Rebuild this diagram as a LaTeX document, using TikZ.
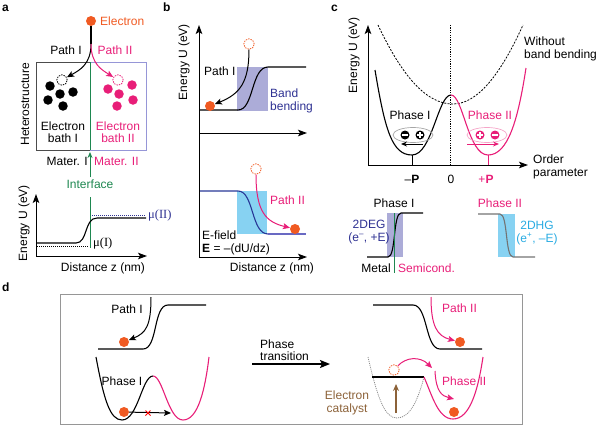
\documentclass[tikz,border=0pt]{standalone}
\usepackage{fontspec}
\setmainfont{Liberation Sans}
\newfontfamily\muserif{Liberation Serif}
\usetikzlibrary{arrows.meta,calc}

\definecolor{eorange}{RGB}{240,90,34}
\definecolor{epink}{RGB}{232,30,120}
\definecolor{lightpink}{RGB}{245,165,200}
\definecolor{egreen}{RGB}{30,135,80}
\definecolor{navy}{RGB}{46,49,146}
\definecolor{bandpurple}{RGB}{172,172,216}
\definecolor{bandcyan}{RGB}{135,210,242}
\definecolor{holeblue}{RGB}{41,171,226}
\definecolor{ebrown}{RGB}{140,98,57}
\definecolor{framegray}{RGB}{150,150,150}
\definecolor{bathblue}{RGB}{150,150,215}
\definecolor{lineblue}{RGB}{40,55,150}
\definecolor{flatblue}{RGB}{105,105,195}

\begin{document}
\begin{tikzpicture}[x=1pt,y=-1pt,
  every node/.style={inner sep=0pt,font=\fontsize{12}{12.5}\selectfont},
  panel/.style={font=\fontsize{12}{12}\selectfont\bfseries,anchor=base west},
  band/.style={line width=1.1pt},
  flow/.style={line width=1pt,-{Stealth[length=7pt,width=6pt,inset=1.5pt]}},
  axisline/.style={line width=0.9pt},
  axtip/.style={-{Stealth[length=9pt,width=6.5pt,inset=2pt]}},
  electron/.style={circle,fill=eorange,minimum size=10pt},
  vacancy/.style={circle,draw=#1,dash pattern=on 1.4pt off 1.1pt,line width=0.8pt,minimum size=10.5pt},
  vacancy/.default=eorange,
  bathdot/.style={circle,fill=#1,minimum size=9.5pt},
  charge/.style={circle,fill=#1,minimum size=9pt},
  sign/.style={white,line width=1.3pt},
  dotline/.style={line width=0.8pt,dash pattern=on 1pt off 1pt},
  chempot/.style={anchor=west,font=\muserif\fontsize{12.5}{12.5}\selectfont},
]
\useasboundingbox (0,0) rectangle (600,426);

% ---------------- a ----------------
\node[panel] (pa) at (2,11) {a};
\node[electron] (ea) at (91,21) {};
\node[anchor=west,text=eorange] (eatxt) at (100,21) {Electron};
\node (pathIa) at (66,50) {Path I};
\node[text=epink] (pathIIa) at (115,50) {Path II};
% heterostructure box
\draw[line width=0.8pt,black!70] (90,62) -- (36,62) -- (36,150) -- (90,150);
\draw[line width=0.8pt,bathblue] (90,62) -- (146,62) -- (146,150) -- (90,150);
\draw[line width=1pt,egreen] (90,62) -- (90,150);
\node[rotate=90] (hetero) at (25,104) {Heterostructure};
\node[vacancy=black] (va1) at (62,80) {};
\node[vacancy=epink] (va2) at (118,80) {};
\coordinate (fork) at (91,44);
\draw[band] (ea) -- (fork);
\draw[flow] (fork) .. controls (91,64) and (80,70) .. (va1);
\draw[flow,epink] (fork) .. controls (91,64) and (102,70) .. (va2);
\foreach \p/\q [count=\i] in {50/86,60/94,73/92,48/100,63/106}
  \node[bathdot=black] (bk\i) at (\p,\q) {};
\foreach \p/\q [count=\i] in {132/85,108/89,119/94,133/100,117/106}
  \node[bathdot=epink] (pk\i) at (\p,\q) {};
\node[align=center] (bathI) at (63,132) {Electron\\bath I};
\node[align=center,text=epink] (bathII) at (118,132) {Electron\\bath II};
\node[anchor=east] (materI) at (88,161) {Mater. I};
\node[anchor=west,text=epink] (materII) at (94,161) {Mater. II};
\node[text=egreen] (iface) at (90,184) {Interface};
\draw[line width=1pt,egreen,-{Stealth[length=6pt,width=5pt]}] (iface.north -| 90,0) ++(0,-2) -- (90,152);
% energy profile
\draw[axisline,axtip] (36,256) -- (36,194);
\draw[axisline,axtip] (36,256) -- (147,256);
\node[rotate=90] (ena) at (24,223) {Energy U (eV)};
\node (disa) at (103,268) {Distance z (nm)};
\draw[line width=1pt,egreen] (90,197) -- (90,248);
\draw[dotline] (37,246) -- (89,246);
\draw[dotline,navy] (92,215) -- (146,215);
\draw[band] (37,243) -- (76,243) .. controls (88,243) and (84,218) .. (97,218) -- (146,218);
\node[chempot] (muI) at (93,243) {μ(I)};
\node[chempot,text=navy] (muII) at (148,215) {μ(II)};

% ---------------- b ----------------
\node[panel] (pb) at (163,11) {b};
\fill[bandpurple] (237,67) rectangle (268,111);
\fill[bandcyan] (237,191) rectangle (267,234);
\draw[axisline,axtip] (199,257) -- (199,25);
\draw[axisline,axtip] (199,257) -- (307,257);
\draw[axisline,axtip] (199,133) -- (307,133);
\node[rotate=90] (enb) at (184,62) {Energy U (eV)};
\node (disb) at (272,268) {Distance z (nm)};
\draw[band] (200,110) -- (238,110) .. controls (254,110) and (251,67) .. (268,67) -- (306,67);
\node[anchor=west,text=navy,align=left] (bend) at (270,101) {Band\\bending};
\node[anchor=west] (pathIb) at (204,71) {Path I};
\node[vacancy] (vb1) at (249,44) {};
\node[electron] (eb1) at (210,106) {};
\draw[flow] (vb1) .. controls (249,82) and (240,94) .. (eb1);
\draw[band,lineblue] (200,191) -- (238,191) .. controls (254,191) and (251,234) .. (268,234);
\draw[band,flatblue] (268,234) -- (306,234);
\node[vacancy] (vb2) at (256,169) {};
\node[electron] (eb2) at (295,229) {};
\draw[flow,epink] (vb2) .. controls (256,212) and (266,222) .. (eb2);
\node[anchor=west,text=epink] (pathIIb) at (270,200) {Path II};
\node[anchor=west,align=left] (efield) at (202,243) {E-field\\\textbf{E} = –(dU/dz)};

% ---------------- c ----------------
\node[panel] (pc) at (331,11) {c};
\draw[axisline,axtip] (368,165) -- (368,25);
\draw[axisline,axtip] (368,165) -- (528,165);
\node[rotate=90] (enc) at (354,55) {Energy U (eV)};
\node[anchor=west,align=left] (order) at (533,167) {Order\\parameter};
\draw[line width=0.6pt,dash pattern=on 1.2pt off 1.2pt] (450,25) -- (450,165);
\draw[line width=0.8pt,dash pattern=on 2pt off 1.4pt]
  (378,25) .. controls (403,78) and (427,104) .. (453,104)
           .. controls (476,104) and (499,78) .. (523,25);
\node[anchor=west,align=left] (nobend) at (524,49) {Without\\band bending};
\draw[band] (375,70) .. controls (385,130) and (392,155) .. (412,155)
                     .. controls (432,155) and (438,95) .. (451,95);
\draw[band,epink] (451,95) .. controls (463,95) and (468,155) .. (488,155)
                          .. controls (508,155) and (518,120) .. (526,68);
\draw[line width=0.9pt] (412,155) -- (412,165);
\draw[line width=0.9pt,epink] (488,155) -- (488,165);
\node (mP) at (412,179) {–\textbf{P}};
\node (zero) at (451,179) {0};
\node[text=epink] (pP) at (486,179) {+\textbf{P}};
\node (phIc) at (410,115) {Phase I};
\node[text=epink] (phIIc) at (490,115) {Phase II};
% dipoles
\draw[line width=0.7pt,black!35] (413,135) ellipse [x radius=20,y radius=7.5];
\node[charge=black] (qm1) at (405,135) {};
\node[charge=black] (qp1) at (420,135) {};
\draw[sign] ($(qm1)+(-2.6,0)$) -- ($(qm1)+(2.6,0)$);
\draw[sign] ($(qp1)+(-2.6,0)$) -- ($(qp1)+(2.6,0)$) ($(qp1)+(0,-2.6)$) -- ($(qp1)+(0,2.6)$);
\draw[line width=1pt,-{Stealth[length=6pt,width=5pt]}] (423,144) -- (401,144);
\draw[line width=0.7pt,lightpink] (487,135) ellipse [x radius=20,y radius=7.5];
\node[charge=epink] (qp2) at (480,135) {};
\node[charge=epink] (qm2) at (495,135) {};
\draw[sign] ($(qp2)+(-2.6,0)$) -- ($(qp2)+(2.6,0)$) ($(qp2)+(0,-2.6)$) -- ($(qp2)+(0,2.6)$);
\draw[sign] ($(qm2)+(-2.6,0)$) -- ($(qm2)+(2.6,0)$);
\draw[line width=1pt,epink,-{Stealth[length=6pt,width=5pt]}] (467,144) -- (499,144);
% interface profiles
\node (phIc2) at (394,203) {Phase I};
\fill[bandpurple] (387,213) rectangle (403,257);
\draw[band] (367,257) -- (388,257) .. controls (396,257) and (393,213) .. (401,213) -- (423,213);
\draw[line width=1pt,egreen] (394,213) -- (394,273);
\node[text=navy,align=center] (deg) at (369,232) {2DEG\\(e\textsuperscript{–}, +E)};
\node[anchor=east] (metal) at (391,268) {Metal};
\node[anchor=west,text=epink] (semi) at (398,268) {Semicond.};
\node[text=epink] (phIIc2) at (500,203) {Phase II};
\fill[bandcyan] (498,214) rectangle (515,257);
\draw[band,black!55] (478,214) -- (500,214) .. controls (508,214) and (505,257) .. (513,257) -- (535,257);
\node[text=holeblue,align=center] (dhg) at (537,233) {2DHG\\(e\textsuperscript{+}, –E)};

% ---------------- d ----------------
\node[panel] (pd) at (2,291) {d};
\draw[line width=0.9pt,framegray] (60,294) rectangle (522,424);
% path I band
\draw[band] (98,349) -- (143,349) .. controls (158,349) and (153,305) .. (168,305) -- (206,305);
\node (pathId) at (127,309) {Path I};
\node[electron] (ed1) at (124,342) {};
\coordinate (srcd1) at (151,297);
\draw[flow] (srcd1) .. controls (151,326) and (146,333) .. (ed1);
% double well, phase I
\draw[band] (96,357) .. controls (104,400) and (110,420) .. (122,420)
                  .. controls (138,420) and (142,376) .. (153,376);
\draw[band,epink] (153,376) .. controls (163,376) and (168,420) .. (183,420)
                          .. controls (198,420) and (205,390) .. (209,357);
\node (phId) at (122,381) {Phase I};
\node[electron] (ed2) at (124,412) {};
\coordinate (blockd) at (171,413);
\draw[flow] (ed2) -- (blockd);
\draw[red,line width=0.9pt] (145.5,410.5) -- (150.5,415.5) (145.5,415.5) -- (150.5,410.5);
% transition arrow
\node[anchor=west,align=left] (trans) at (260,350) {Phase\\transition};
\coordinate (tr1) at (252,364);
\coordinate (tr2) at (330,364);
\draw[line width=1.6pt,-{Stealth[length=10pt,width=8pt,inset=2pt]}] (tr1) -- (tr2);
% path II band
\draw[band] (373,305) -- (413,305) .. controls (428,305) and (425,349) .. (440,349) -- (482,349);
\node[anchor=west,text=epink] (pathIId) at (442,308) {Path II};
\node[electron] (ed3) at (460,342) {};
\coordinate (srcd2) at (431,297);
\draw[flow,epink] (srcd2) .. controls (431,326) and (437,336) .. (ed3);
% catalysed double well, phase II
\draw[line width=0.8pt,black!45,dash pattern=on 1pt off 1pt]
  (368,357) .. controls (378,400) and (385,418) .. (397,418)
            .. controls (410,418) and (418,400) .. (424,377);
\draw[band] (372,377) -- (424,377);
\draw[band,epink] (424,377) .. controls (432,395) and (438,419) .. (453,419)
                          .. controls (470,419) and (478,390) .. (483,357);
\node[vacancy] (vd) at (394,370) {};
\coordinate (hop) at (432,368);
\coordinate (fall) at (435,371);
\coordinate (land) at (454,399);
\draw[flow,epink] (vd) .. controls (406,357) and (420,356) .. (hop);
\draw[flow,epink] (fall) .. controls (436,392) and (442,396) .. (land);
\node[anchor=west,text=epink] (phIId) at (442,381) {Phase II};
\node[electron] (ed4) at (454,412) {};
\coordinate (catb) at (396,413);
\coordinate (catt) at (396,384);
\draw[line width=1.1pt,ebrown,-{Stealth[length=7pt,width=6pt]}] (catb) -- (catt);
\node[text=ebrown,align=center] (cat) at (347,403) {Electron\\catalyst};
\end{tikzpicture}
\end{document}
